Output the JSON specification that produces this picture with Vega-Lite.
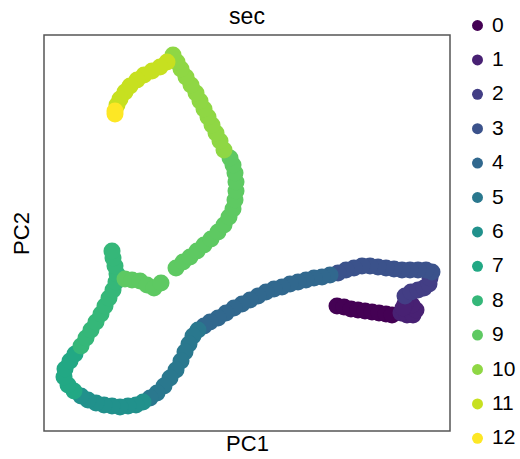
{
  "$schema": "https://vega.github.io/schema/vega-lite/v6.json",
  "width": 406,
  "height": 396,
  "autosize": {"type": "none"},
  "padding": {"left": 44, "top": 35, "right": 70, "bottom": 28},
  "title": {"text": "sec", "font": "Liberation Sans", "fontSize": 23, "fontWeight": "normal", "color": "#000000", "baseline": "alphabetic", "offset": 11, "dy": 43, "anchor": "middle", "frame": "group"},
  "config": {"view": {"stroke": "#555555", "strokeWidth": 1.5}},
  "data": {"values": [
    {"PC1": 8.7, "PC2": -7.6, "sec": 0}, {"PC1": 9.4, "PC2": -7.7, "sec": 0}, {"PC1": 10.1, "PC2": -7.9, "sec": 0}, {"PC1": 10.8, "PC2": -8.0, "sec": 0}, {"PC1": 11.5, "PC2": -8.1, "sec": 0}, {"PC1": 12.2, "PC2": -8.2, "sec": 0}, {"PC1": 12.9, "PC2": -8.3, "sec": 0}, {"PC1": 13.6, "PC2": -8.4, "sec": 0}, {"PC1": 14.2, "PC2": -8.5, "sec": 0},
    {"PC1": 15.1, "PC2": -8.3, "sec": 1}, {"PC1": 15.7, "PC2": -8.5, "sec": 1}, {"PC1": 16.3, "PC2": -8.5, "sec": 1}, {"PC1": 16.6, "PC2": -8.0, "sec": 1}, {"PC1": 16.2, "PC2": -7.5, "sec": 1}, {"PC1": 15.5, "PC2": -7.4, "sec": 1}, {"PC1": 15.3, "PC2": -7.8, "sec": 1},
    {"PC1": 15.5, "PC2": -6.6, "sec": 2}, {"PC1": 16.1, "PC2": -6.2, "sec": 2}, {"PC1": 16.8, "PC2": -6.0, "sec": 2}, {"PC1": 17.4, "PC2": -5.8, "sec": 2}, {"PC1": 17.9, "PC2": -5.4, "sec": 2}, {"PC1": 18.0, "PC2": -4.8, "sec": 2},
    {"PC1": 18.2, "PC2": -4.2, "sec": 3}, {"PC1": 17.6, "PC2": -4.0, "sec": 3}, {"PC1": 16.8, "PC2": -4.0, "sec": 3}, {"PC1": 16.0, "PC2": -4.0, "sec": 3}, {"PC1": 15.2, "PC2": -4.0, "sec": 3}, {"PC1": 14.4, "PC2": -3.9, "sec": 3}, {"PC1": 13.6, "PC2": -3.8, "sec": 3}, {"PC1": 12.8, "PC2": -3.7, "sec": 3}, {"PC1": 12.0, "PC2": -3.6, "sec": 3}, {"PC1": 11.2, "PC2": -3.6, "sec": 3}, {"PC1": 10.4, "PC2": -3.8, "sec": 3}, {"PC1": 9.6, "PC2": -4.0, "sec": 3}, {"PC1": 8.8, "PC2": -4.3, "sec": 3},
    {"PC1": 8.0, "PC2": -4.5, "sec": 4}, {"PC1": 7.2, "PC2": -4.7, "sec": 4}, {"PC1": 6.4, "PC2": -4.8, "sec": 4}, {"PC1": 5.6, "PC2": -5.0, "sec": 4}, {"PC1": 4.8, "PC2": -5.2, "sec": 4}, {"PC1": 4.0, "PC2": -5.4, "sec": 4}, {"PC1": 3.2, "PC2": -5.7, "sec": 4}, {"PC1": 2.4, "PC2": -5.9, "sec": 4}, {"PC1": 1.6, "PC2": -6.2, "sec": 4}, {"PC1": 0.8, "PC2": -6.6, "sec": 4}, {"PC1": 0.0, "PC2": -7.0, "sec": 4}, {"PC1": -0.8, "PC2": -7.4, "sec": 4}, {"PC1": -1.6, "PC2": -7.8, "sec": 4}, {"PC1": -2.4, "PC2": -8.3, "sec": 4}, {"PC1": -3.2, "PC2": -8.8, "sec": 4}, {"PC1": -4.0, "PC2": -9.2, "sec": 4}, {"PC1": -4.6, "PC2": -9.6, "sec": 4},
    {"PC1": -5.2, "PC2": -10.0, "sec": 5}, {"PC1": -5.7, "PC2": -10.6, "sec": 5}, {"PC1": -6.1, "PC2": -11.4, "sec": 5}, {"PC1": -6.5, "PC2": -12.2, "sec": 5}, {"PC1": -6.9, "PC2": -13.1, "sec": 5}, {"PC1": -7.4, "PC2": -14.0, "sec": 5}, {"PC1": -8.0, "PC2": -14.8, "sec": 5}, {"PC1": -8.6, "PC2": -15.6, "sec": 5}, {"PC1": -9.3, "PC2": -16.3, "sec": 5}, {"PC1": -10.0, "PC2": -16.8, "sec": 5},
    {"PC1": -10.7, "PC2": -17.2, "sec": 6}, {"PC1": -11.4, "PC2": -17.5, "sec": 6}, {"PC1": -12.2, "PC2": -17.6, "sec": 6}, {"PC1": -13.0, "PC2": -17.7, "sec": 6}, {"PC1": -13.8, "PC2": -17.6, "sec": 6}, {"PC1": -14.6, "PC2": -17.5, "sec": 6}, {"PC1": -15.4, "PC2": -17.3, "sec": 6}, {"PC1": -16.2, "PC2": -17.0, "sec": 6}, {"PC1": -16.9, "PC2": -16.6, "sec": 6},
    {"PC1": -17.6, "PC2": -16.1, "sec": 7}, {"PC1": -18.2, "PC2": -15.5, "sec": 7}, {"PC1": -18.6, "PC2": -14.7, "sec": 7}, {"PC1": -18.5, "PC2": -13.9, "sec": 7}, {"PC1": -18.0, "PC2": -13.1, "sec": 7}, {"PC1": -17.5, "PC2": -12.4, "sec": 7},
    {"PC1": -16.9, "PC2": -11.6, "sec": 8}, {"PC1": -16.4, "PC2": -10.8, "sec": 8}, {"PC1": -15.9, "PC2": -10.0, "sec": 8}, {"PC1": -15.4, "PC2": -9.2, "sec": 8}, {"PC1": -14.9, "PC2": -8.4, "sec": 8}, {"PC1": -14.5, "PC2": -7.6, "sec": 8}, {"PC1": -14.1, "PC2": -6.8, "sec": 8}, {"PC1": -13.7, "PC2": -6.0, "sec": 8}, {"PC1": -13.4, "PC2": -5.2, "sec": 8}, {"PC1": -13.3, "PC2": -4.4, "sec": 8}, {"PC1": -13.5, "PC2": -3.6, "sec": 8}, {"PC1": -13.7, "PC2": -2.8, "sec": 8}, {"PC1": -13.8, "PC2": -2.1, "sec": 8},
    {"PC1": -12.5, "PC2": -4.9, "sec": 9}, {"PC1": -11.8, "PC2": -5.0, "sec": 9}, {"PC1": -11.0, "PC2": -5.1, "sec": 9}, {"PC1": -10.3, "PC2": -5.5, "sec": 9}, {"PC1": -9.6, "PC2": -5.8, "sec": 9}, {"PC1": -8.9, "PC2": -5.3, "sec": 9}, {"PC1": -7.4, "PC2": -3.8, "sec": 9}, {"PC1": -6.7, "PC2": -3.2, "sec": 9}, {"PC1": -6.0, "PC2": -2.7, "sec": 9}, {"PC1": -5.3, "PC2": -2.1, "sec": 9}, {"PC1": -4.6, "PC2": -1.5, "sec": 9}, {"PC1": -3.9, "PC2": -0.9, "sec": 9}, {"PC1": -3.2, "PC2": -0.2, "sec": 9}, {"PC1": -2.6, "PC2": 0.5, "sec": 9}, {"PC1": -2.1, "PC2": 1.3, "sec": 9}, {"PC1": -1.7, "PC2": 2.1, "sec": 9}, {"PC1": -1.5, "PC2": 3.0, "sec": 9}, {"PC1": -1.4, "PC2": 3.9, "sec": 9}, {"PC1": -1.4, "PC2": 4.8, "sec": 9}, {"PC1": -1.5, "PC2": 5.7, "sec": 9}, {"PC1": -1.7, "PC2": 6.5, "sec": 9}, {"PC1": -2.0, "PC2": 7.2, "sec": 9},
    {"PC1": -2.6, "PC2": 8.0, "sec": 10}, {"PC1": -3.0, "PC2": 8.9, "sec": 10}, {"PC1": -3.4, "PC2": 9.7, "sec": 10}, {"PC1": -3.8, "PC2": 10.5, "sec": 10}, {"PC1": -4.2, "PC2": 11.3, "sec": 10}, {"PC1": -4.6, "PC2": 12.1, "sec": 10}, {"PC1": -5.0, "PC2": 12.9, "sec": 10}, {"PC1": -5.4, "PC2": 13.7, "sec": 10}, {"PC1": -5.9, "PC2": 14.5, "sec": 10}, {"PC1": -6.4, "PC2": 15.3, "sec": 10}, {"PC1": -6.9, "PC2": 16.1, "sec": 10}, {"PC1": -7.3, "PC2": 16.8, "sec": 10}, {"PC1": -7.7, "PC2": 17.5, "sec": 10},
    {"PC1": -8.3, "PC2": 16.8, "sec": 11}, {"PC1": -9.0, "PC2": 16.3, "sec": 11}, {"PC1": -9.8, "PC2": 15.9, "sec": 11}, {"PC1": -10.6, "PC2": 15.5, "sec": 11}, {"PC1": -11.3, "PC2": 15.0, "sec": 11}, {"PC1": -12.0, "PC2": 14.4, "sec": 11}, {"PC1": -12.5, "PC2": 13.8, "sec": 11}, {"PC1": -13.0, "PC2": 13.1, "sec": 11}, {"PC1": -13.3, "PC2": 12.5, "sec": 11},
    {"PC1": -13.5, "PC2": 11.9, "sec": 12}, {"PC1": -13.5, "PC2": 11.6, "sec": 12}
  ]},
  "mark": {"type": "circle", "size": 290, "opacity": 1},
  "encoding": {
    "x": {"field": "PC1", "type": "quantitative", "scale": {"domain": [-20.6, 20.0], "nice": false, "zero": false},
      "axis": {"title": "PC1", "labels": false, "ticks": false, "domain": false, "grid": false, "titleFont": "Liberation Sans", "titleFontSize": 22, "titleFontWeight": "normal", "titleColor": "#000000", "titlePadding": 2}},
    "y": {"field": "PC2", "type": "quantitative", "scale": {"domain": [-20.1, 19.5], "nice": false, "zero": false},
      "axis": {"title": "PC2", "labels": false, "ticks": false, "domain": false, "grid": false, "titleFont": "Liberation Sans", "titleFontSize": 22, "titleFontWeight": "normal", "titleColor": "#000000", "titlePadding": 11}},
    "color": {"field": "sec", "type": "ordinal",
      "scale": {"domain": [0, 1, 2, 3, 4, 5, 6, 7, 8, 9, 10, 11, 12], "range": ["#440154", "#482173", "#433e85", "#3b528b", "#31688e", "#2a788e", "#21918c", "#22a884", "#35b779", "#5ec962", "#8fd744", "#c7e020", "#fde725"]},
      "legend": {"title": null, "orient": "none", "legendX": 423, "legendY": -20, "symbolType": "circle", "symbolSize": 120, "symbolStrokeWidth": 0, "symbolOpacity": 1, "labelFont": "Liberation Sans", "labelFontSize": 21, "labelColor": "#000000", "labelOffset": 4, "rowPadding": 12.4}}
  }
}
